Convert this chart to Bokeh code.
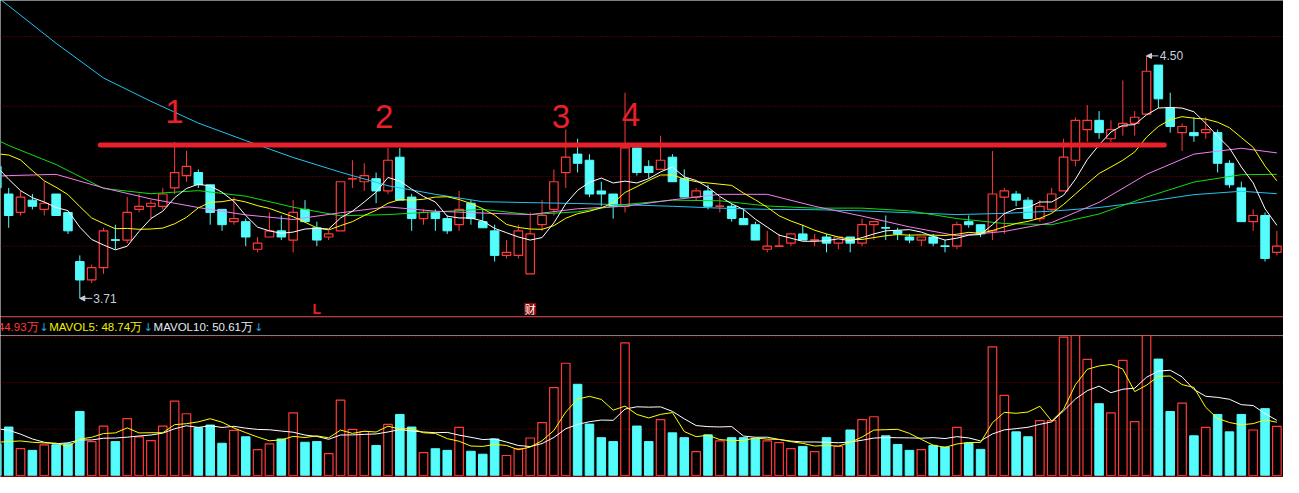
import pandas as pd
from bokeh.plotting import figure
from bokeh.layouts import column
from bokeh.models import Range1d, Span, Arrow, NormalHead, ColumnDataSource
from bokeh.core.properties import value
from bokeh.embed import file_html
from bokeh.resources import INLINE

# ---------------- data ----------------
idx = list(range(-1, 108))
open_ = [4.14, 4.05, 3.99, 4.03, 4.00, 4.05, 3.99, 3.83, 3.77, 3.81,
         3.90, 3.90, 4.00, 4.01, 4.01, 4.07, 4.11, 4.12, 4.08, 4.00,
         3.96, 3.96, 3.87, 3.91, 3.93, 3.90, 4.00, 3.94, 3.91, 3.93,
         4.10, 4.09, 4.10, 4.06, 4.17, 4.04, 3.97, 3.99, 3.97, 3.95,
         4.02, 3.96, 3.93, 3.85, 3.85, 3.79, 3.95, 4.00, 4.12, 4.18,
         4.16, 4.06, 4.05, 4.01, 4.20, 4.14, 4.13, 4.17, 4.10, 4.04,
         4.06, 4.01, 4.01, 3.97, 3.95, 3.87, 3.88, 3.89, 3.92, 3.90,
         3.91, 3.89, 3.91, 3.89, 3.95, 3.94, 3.93, 3.91, 3.90, 3.91,
         3.88, 3.88, 3.96, 3.95, 3.93, 4.04, 4.05, 4.03, 3.97, 4.00,
         4.06, 4.16, 4.26, 4.29, 4.23, 4.27, 4.28, 4.31, 4.47, 4.33,
         4.25, 4.25, 4.25, 4.25, 4.15, 4.07, 3.96, 3.98, 3.86]
high = [4.15, 4.07, 4.06, 4.05, 4.09, 4.05, 3.99, 3.85, 3.82, 3.94,
        3.95, 4.04, 4.05, 4.03, 4.07, 4.22, 4.19, 4.13, 4.08, 4.00,
        4.04, 3.97, 3.91, 3.99, 3.98, 4.03, 4.03, 3.96, 3.93, 4.09,
        4.16, 4.15, 4.12, 4.20, 4.20, 4.05, 4.00, 4.00, 3.98, 4.06,
        4.03, 4.00, 3.95, 3.90, 3.95, 3.99, 4.03, 4.13, 4.26, 4.23,
        4.18, 4.09, 4.05, 4.38, 4.20, 4.16, 4.24, 4.18, 4.13, 4.07,
        4.08, 4.04, 4.02, 4.00, 3.96, 3.93, 3.92, 3.92, 3.95, 3.92,
        3.92, 3.91, 3.91, 3.97, 3.96, 3.98, 3.94, 3.92, 3.91, 3.92,
        3.90, 3.96, 3.98, 3.95, 4.19, 4.07, 4.06, 4.04, 4.03, 4.07,
        4.23, 4.30, 4.34, 4.32, 4.29, 4.42, 4.32, 4.50, 4.47, 4.38,
        4.28, 4.30, 4.30, 4.26, 4.16, 4.09, 4.00, 3.99, 3.93]
low = [4.06, 3.94, 3.98, 4.00, 3.98, 3.98, 3.92, 3.71, 3.76, 3.79,
       3.87, 3.89, 3.99, 3.97, 4.00, 4.05, 4.09, 4.07, 3.95, 3.93,
       3.95, 3.88, 3.86, 3.91, 3.90, 3.86, 3.96, 3.88, 3.90, 3.93,
       4.07, 4.06, 4.02, 4.05, 4.03, 3.93, 3.95, 3.93, 3.92, 3.93,
       3.95, 3.94, 3.83, 3.84, 3.84, 3.79, 3.93, 3.98, 4.07, 4.12,
       4.04, 4.01, 3.97, 3.99, 4.11, 4.10, 4.13, 4.09, 4.04, 4.03,
       4.00, 3.99, 3.96, 3.95, 3.90, 3.86, 3.88, 3.88, 3.90, 3.88,
       3.86, 3.87, 3.86, 3.88, 3.90, 3.90, 3.90, 3.89, 3.88, 3.88,
       3.86, 3.87, 3.94, 3.91, 3.90, 3.92, 4.01, 3.97, 3.96, 3.99,
       4.06, 4.14, 4.22, 4.23, 4.22, 4.24, 4.24, 4.31, 4.33, 4.25,
       4.19, 4.22, 4.23, 4.12, 4.07, 3.96, 3.93, 3.83, 3.85]
close = [4.07, 3.98, 4.04, 4.01, 4.02, 3.98, 3.93, 3.77, 3.81, 3.93,
         3.90, 3.99, 4.01, 4.02, 4.05, 4.12, 4.14, 4.08, 3.99, 3.95,
         3.97, 3.91, 3.89, 3.93, 3.91, 3.99, 3.96, 3.90, 3.92, 4.09,
         4.10, 4.11, 4.06, 4.16, 4.03, 3.97, 3.99, 3.97, 3.93, 4.00,
         3.97, 3.94, 3.85, 3.86, 3.93, 3.92, 3.98, 4.09, 4.17, 4.15,
         4.05, 4.05, 4.01, 4.20, 4.12, 4.12, 4.16, 4.09, 4.04, 4.06,
         4.01, 4.01, 3.97, 3.95, 3.90, 3.88, 3.88, 3.92, 3.90, 3.90,
         3.89, 3.91, 3.89, 3.95, 3.96, 3.94, 3.92, 3.90, 3.91, 3.89,
         3.88, 3.95, 3.95, 3.92, 4.05, 4.06, 4.03, 3.97, 4.01, 4.05,
         4.17, 4.29, 4.29, 4.25, 4.26, 4.28, 4.30, 4.45, 4.36, 4.27,
         4.27, 4.24, 4.26, 4.15, 4.08, 3.96, 3.98, 3.84, 3.88]
volume = [29.0, 44.3, 24.5, 23.0, 28.1, 28.1, 29.0, 58.5, 31.0, 45.2,
          31.0, 52.0, 35.4, 31.9, 45.2, 67.9, 56.4, 43.7, 46.1, 29.5,
          41.3, 35.4, 23.6, 29.0, 33.4, 57.3, 30.4, 31.0, 20.1, 68.8,
          42.2, 40.2, 27.5, 46.7, 55.8, 44.3, 21.0, 24.5, 23.0, 44.0,
          22.2, 19.5, 33.4, 18.3, 24.5, 34.3, 48.4, 80.3, 102.5, 83.3,
          47.0, 34.6, 31.0, 121.1, 45.2, 31.0, 51.1, 39.0, 34.6, 21.9,
          37.2, 31.6, 34.6, 34.6, 34.0, 31.6, 30.1, 24.5, 26.6, 21.9,
          34.6, 26.6, 41.6, 51.1, 53.7, 36.3, 28.4, 23.0, 23.6, 27.5,
          26.0, 44.0, 29.8, 23.9, 117.5, 73.2, 39.9, 35.4, 50.2, 50.2,
          126.4, 152.0, 106.0, 65.6, 57.3, 105.1, 49.3, 135.0, 106.3, 58.5,
          66.1, 36.3, 44.0, 55.8, 39.9, 55.8, 41.6, 61.1, 44.93]

# moving-average values at the left edge (history not visible)
ma5_head = [4.139, 4.098, 4.061, 4.038]
ma10_head = [4.181, 4.177, 4.161, 4.126, 4.093, 4.072, 4.048, 4.009, 3.972]
mavol5_head = [30.4, 31.0, 31.6, 30.4]
mavol10_head = [42.8, 41.4, 37.8, 33.4, 30.4, 29.0, 29.9, 32.5, 32.5]

# long moving averages
ma_idx = [-1, 0, 4, 8, 12, 16, 20, 24, 28, 32, 36, 40, 44, 48, 52, 56, 60,
          64, 68, 72, 76, 80, 84, 88, 92, 96, 100, 104, 107]
ma20 = [4.108, 4.110, 4.114, 4.070, 4.034, 4.006, 3.982, 3.967, 3.989, 4.008,
        3.994, 3.988, 3.983, 4.002, 4.010, 4.031, 4.049, 4.049, 4.010, 3.978,
        3.943, 3.914, 3.928, 3.957, 4.023, 4.114, 4.180, 4.199, 4.184]
ma30 = [4.227, 4.208, 4.146, 4.068, 4.051, 4.061, 4.043, 4.007, 3.979, 3.983,
        3.992, 4.000, 3.983, 3.992, 4.016, 4.030, 4.028, 4.011, 4.004, 4.004,
        3.995, 3.970, 3.954, 3.950, 3.985, 4.040, 4.089, 4.113, 4.114]
ma60 = [4.693, 4.663, 4.541, 4.428, 4.352, 4.281, 4.224, 4.169, 4.121, 4.077,
        4.049, 4.025, 4.022, 4.019, 4.015, 4.010, 4.004, 4.000, 3.999, 3.995,
        3.989, 3.983, 3.987, 3.994, 4.006, 4.025, 4.048, 4.059, 4.051]

# hand-drawn annotations
resist_x = [7.72, 97.5]
resist_y = [4.210, 4.210]
mark_x = [13.98, 31.68, 46.6, 52.5]
mark_y = [4.318, 4.301, 4.301, 4.310]
mark_txt = ["1", "2", "3", "4"]
event_L_x = [26]
event_cai_x = [44]
event_y = [3.676]
price_grid = [4.563, 4.336, 4.107, 3.880]
vol_grid = [126.4, 84.8, 42.3]
header_texts = ["44.93万", "MAVOL5: 48.74万", "MAVOL10: 50.61万"]

# ---------------- styling ----------------
RED = "#FF3A3A"
CYAN = "#54FCFC"
GRID = "#8C0000"
BG = "#000000"
W = 1283
H_PRICE, H_HEAD, H_VOL = 316, 19, 142
XR = (-0.692, 107.558)
BW = 0.72

n = len(idx)
up = []
for k in range(n):
    if close[k] > open_[k]:
        u = True
    elif close[k] < open_[k]:
        u = False
    else:
        u = (k == 0) or close[k] >= close[k - 1]
    up.append(u)

def base_fig(h, xr, yr):
    f = figure(width=W, height=h, x_range=Range1d(*xr), y_range=Range1d(*yr),
               output_backend="svg", toolbar_location=None,
               x_axis_location=None, y_axis_location=None, min_border=0,
               background_fill_color=BG, border_fill_color=BG,
               outline_line_color=None)
    f.grid.visible = False
    return f

# ---------------- price panel ----------------
p = base_fig(H_PRICE, XR, (3.651, 4.6804))
for g in price_grid:
    p.add_layout(Span(location=g, dimension="width", line_color=GRID,
                      line_dash="1 2", line_width=1, level="underlay"))

red_i = [k for k in range(n) if up[k]]
cy_i = [k for k in range(n) if not up[k]]

# cyan candles: full wick + filled body
p.segment(x0=[idx[k] for k in cy_i], y0=[high[k] for k in cy_i],
          x1=[idx[k] for k in cy_i], y1=[low[k] for k in cy_i],
          line_color=CYAN, line_width=1)
p.vbar(x=[idx[k] for k in cy_i], width=BW, top=[open_[k] for k in cy_i],
       bottom=[close[k] for k in cy_i], fill_color=CYAN, line_color=CYAN,
       line_width=1)
# red candles: wicks outside hollow body
p.segment(x0=[idx[k] for k in red_i], y0=[high[k] for k in red_i],
          x1=[idx[k] for k in red_i], y1=[max(open_[k], close[k]) for k in red_i],
          line_color=RED, line_width=1)
p.segment(x0=[idx[k] for k in red_i], y0=[min(open_[k], close[k]) for k in red_i],
          x1=[idx[k] for k in red_i], y1=[low[k] for k in red_i],
          line_color=RED, line_width=1)
p.vbar(x=[idx[k] for k in red_i], width=BW, top=[close[k] for k in red_i],
       bottom=[open_[k] for k in red_i], fill_color=None, line_color=RED,
       line_width=1.2)
# doji bars
dj = [k for k in range(n) if open_[k] == close[k]]
p.segment(x0=[idx[k] - BW / 2 for k in dj], y0=[close[k] for k in dj],
          x1=[idx[k] + BW / 2 for k in dj], y1=[close[k] for k in dj],
          line_color=[RED if up[k] else CYAN for k in dj], line_width=1.5)

# moving averages
cl = pd.Series(close)
ma5 = cl.rolling(5).mean().tolist()
ma5[:len(ma5_head)] = ma5_head
ma10 = cl.rolling(10).mean().tolist()
ma10[:len(ma10_head)] = ma10_head

p.line(ma_idx, ma60, line_color="#22C4F0", line_width=1)
p.line(ma_idx, ma30, line_color="#10DD10", line_width=1)
p.line(ma_idx, ma20, line_color="#F080F0", line_width=1)
p.line(idx, ma10, line_color="#FFFF00", line_width=1)
p.line(idx, ma5, line_color="#FFFFFF", line_width=1)

# low / high markers
lo_k = min(range(n), key=lambda k: low[k])
hi_k = max(range(n), key=lambda k: high[k])
MARK = "#C8D0DA"
p.add_layout(Arrow(end=NormalHead(size=5, fill_color=MARK, line_color=MARK),
                   x_start=idx[lo_k] + 1.05, y_start=low[lo_k],
                   x_end=idx[lo_k], y_end=low[lo_k],
                   line_color=MARK, line_width=1))
p.text(x=[idx[lo_k] + 1.13], y=[low[lo_k]], text=[f"{low[lo_k]:.2f}"],
       text_color=MARK, text_font=value("Liberation Sans"),
       text_font_size="12px", text_align="left", text_baseline="middle")
p.add_layout(Arrow(end=NormalHead(size=5, fill_color=MARK, line_color=MARK),
                   x_start=idx[hi_k] + 1.0, y_start=high[hi_k],
                   x_end=idx[hi_k], y_end=high[hi_k],
                   line_color=MARK, line_width=1))
p.text(x=[idx[hi_k] + 1.12], y=[high[hi_k]], text=[f"{high[hi_k]:.2f}"],
       text_color=MARK, text_font=value("Liberation Sans"),
       text_font_size="12px", text_align="left", text_baseline="middle")

# event markers
p.text(x=event_L_x, y=event_y, text=["L"], text_color="#E82020",
       text_font=value("Liberation Sans"), text_font_style="bold",
       text_font_size="14px", text_align="center", text_baseline="middle")
p.rect(x=event_cai_x, y=event_y, width=12, height=12, width_units="screen",
       height_units="screen", fill_color="#8C0A0A", line_color=None)
p.text(x=event_cai_x, y=event_y, text=["财"], text_color="#FFFFFF",
       text_font=value("Noto Sans CJK SC"), text_font_size="11px",
       text_align="center", text_baseline="middle")

# hand-drawn resistance line and numbers
p.line(resist_x, resist_y, line_color="#E8202A", line_width=5, line_cap="round")
p.text(x=mark_x, y=mark_y, text=mark_txt, text_color="#E8202A",
       text_font=value("Liberation Sans"), text_font_size="33px",
       text_align="center", text_baseline="middle")

# ---------------- header strip ----------------
h = base_fig(H_HEAD, (0, 1299), (19.7, 0))
h.add_layout(Span(location=0.5, dimension="width", line_color=GRID, line_width=1.5))
HF = value("Liberation Sans")
h.text(x=[38.5], y=[10.5], text=[header_texts[0]], text_color="#FF3C3C",
       text_font=HF, text_font_size="11.5px", text_align="right", text_baseline="middle")
h.text(x=[49.3], y=[10.5], text=[header_texts[1]], text_color="#F0F000",
       text_font=HF, text_font_size="11.5px", text_align="left", text_baseline="middle")
h.text(x=[155], y=[10.5], text=[header_texts[2]], text_color="#E4ECF4",
       text_font=HF, text_font_size="11.5px", text_align="left", text_baseline="middle")
h.text(x=[39.5, 145, 257], y=[11, 11, 11], text=["↓", "↓", "↓"], text_color="#1EA8E8",
       text_font=value("DejaVu Sans"), text_font_size="11px", text_align="left",
       text_baseline="middle")

# ---------------- volume panel ----------------
v = base_fig(H_VOL, XR, (-1.77, 127.85))
for g in vol_grid:
    v.add_layout(Span(location=g, dimension="width", line_color=GRID,
                      line_dash="1 2", line_width=1, level="underlay"))
v.vbar(x=[idx[k] for k in cy_i], width=BW, top=[volume[k] for k in cy_i], bottom=0,
       fill_color=CYAN, line_color=CYAN, line_width=1)
v.vbar(x=[idx[k] for k in red_i], width=BW, top=[volume[k] for k in red_i], bottom=0,
       fill_color=None, line_color=RED, line_width=1.2)
vs = pd.Series(volume)
mv5 = vs.rolling(5).mean().tolist()
mv5[:len(mavol5_head)] = mavol5_head
mv10 = vs.rolling(10).mean().tolist()
mv10[:len(mavol10_head)] = mavol10_head
v.line(idx, mv10, line_color="#FFFFFF", line_width=1)
v.line(idx, mv5, line_color="#FFFF00", line_width=1)
v.add_layout(Span(location=-0.9, dimension="width", line_color=GRID, line_width=1.5))

layout = column(p, h, v, spacing=0)
open("out.html", "w").write(file_html(layout, INLINE))
